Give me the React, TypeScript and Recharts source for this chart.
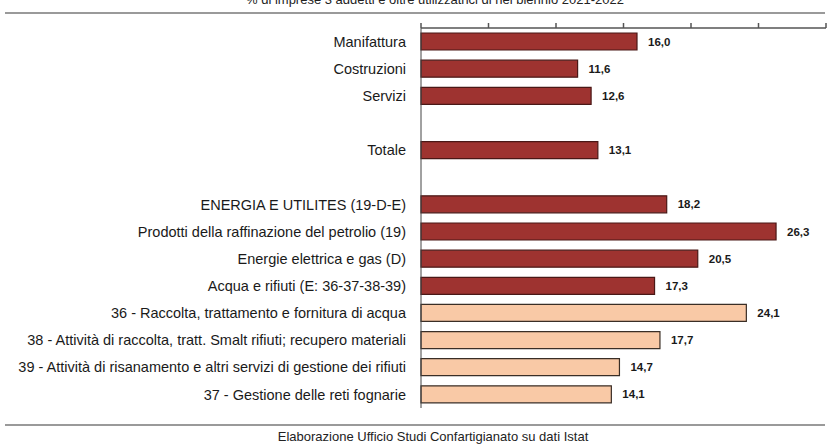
import React from "react";
import { BarChart, Bar, XAxis, YAxis, Cell, LabelList } from "recharts";

const categories = [
  "Manifattura",
  "Costruzioni",
  "Servizi",
  " ",
  "Totale",
  "  ",
  "ENERGIA E UTILITES (19-D-E)",
  "Prodotti della raffinazione del petrolio (19)",
  "Energie elettrica e gas (D)",
  "Acqua e rifiuti (E: 36-37-38-39)",
  "36 - Raccolta, trattamento e fornitura di acqua",
  "38 - Attività di raccolta, tratt. Smalt rifiuti; recupero materiali",
  "39 - Attività di risanamento e altri servizi di gestione dei rifiuti",
  "37 - Gestione delle reti fognarie",
];
const values: (number | null)[] = [16.0, 11.6, 12.6, null, 13.1, null, 18.2, 26.3, 20.5, 17.3, 24.1, 17.7, 14.7, 14.1];
const groups = ["main", "main", "main", "none", "main", "none", "main", "main", "main", "main", "sub", "sub", "sub", "sub"];
const xTicks = [0, 5, 10, 15, 20, 25, 30];
const titleText = "% di imprese 3 addetti e oltre utilizzatrici di nel biennio 2021-2022";
const sourceText = "Elaborazione Ufficio Studi Confartigianato su dati Istat";

const data = categories.map((name, i) => ({ name, value: values[i], group: groups[i] }));

const FILL: Record<string, string> = { main: "#9E3330", sub: "#F9C9A6", none: "transparent" };
const STROKE: Record<string, string> = { main: "#4a1816", sub: "#3a2e26", none: "transparent" };

const fmt = (v: any) => (v === null || v === undefined ? "" : Number(v).toFixed(1).replace(".", ","));

export default function App() {
  return (
    <div style={{ position: "absolute", left: 0, top: 0, width: 830, height: 445, background: "#fff", overflow: "hidden", fontFamily: "'Liberation Sans', Arial, sans-serif" }}>
      <div style={{ position: "absolute", left: 0, top: -8, width: 870, textAlign: "center", fontSize: 13, color: "#222", whiteSpace: "nowrap" }}>{titleText}</div>
      <div style={{ position: "absolute", left: 5, top: 12, width: 820, height: 2, background: "#9a9a9a" }} />
      <div style={{ position: "absolute", left: 0, top: 0 }}>
        <BarChart
          width={830}
          height={445}
          data={data}
          layout="vertical"
          margin={{ top: 8, right: 4, bottom: 37, left: 0 }}
          barSize={17}
        >
          <YAxis
            type="category"
            dataKey="name"
            width={421}
            stroke="#444"
            tickLine={false}
            tick={{ fontSize: 14.5, fill: "#1a1a1a", fontFamily: "'Liberation Sans', Arial, sans-serif" }}
            tickMargin={9}
            interval={0}
          />
          <XAxis
            type="number"
            orientation="top"
            domain={[0, 30]}
            ticks={xTicks}
            stroke="#555"
            strokeWidth={1.5}
            tickSize={5}
            height={20}
            tick={{ fill: "#ffffff", fontSize: 1 }}
          />
          <Bar dataKey="value" isAnimationActive={false} strokeWidth={1.2}>
            {data.map((d, i) => (
              <Cell key={i} fill={FILL[d.group]} stroke={STROKE[d.group]} />
            ))}
            <LabelList
              dataKey="value"
              position="right"
              offset={11}
              formatter={fmt}
              style={{ fontSize: 11.5, fontWeight: "bold", fill: "#1a1a1a", fontFamily: "'Liberation Sans', Arial, sans-serif" }}
            />
          </Bar>
        </BarChart>
      </div>
      <div style={{ position: "absolute", left: 5, top: 424, width: 820, height: 2, background: "#9a9a9a" }} />
      <div style={{ position: "absolute", left: 0, top: 429, width: 866, textAlign: "center", fontSize: 13, color: "#222", whiteSpace: "nowrap" }}>{sourceText}</div>
    </div>
  );
}
